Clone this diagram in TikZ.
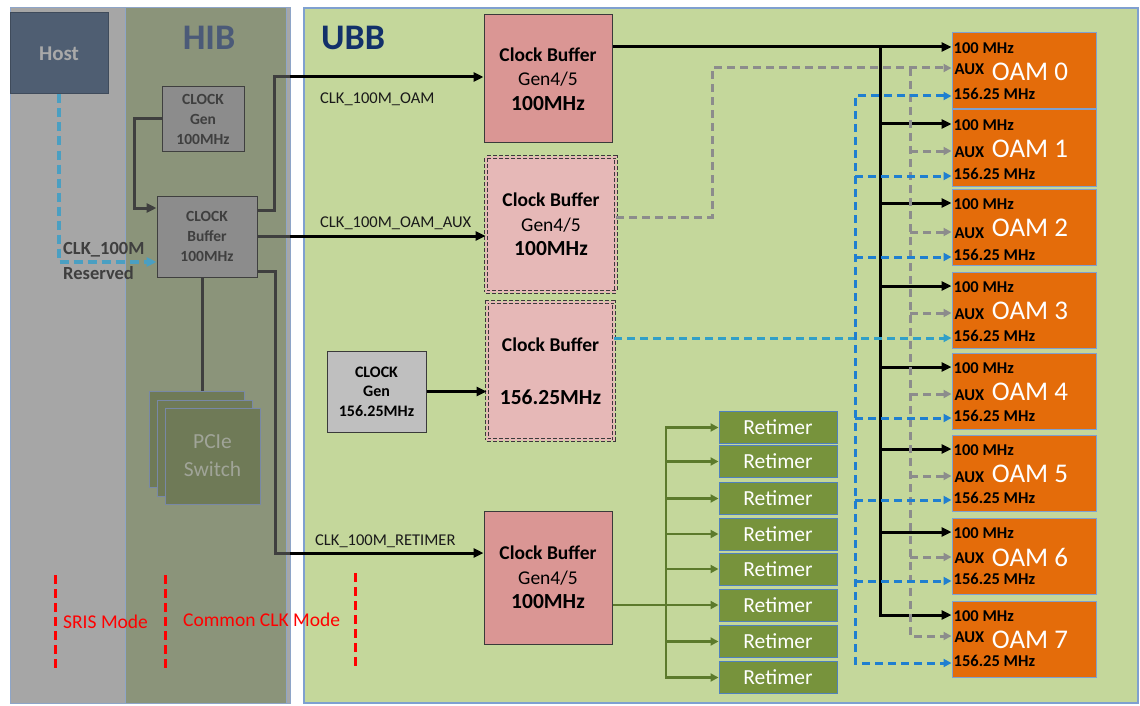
\documentclass[tikz,border=0pt]{standalone}
\usepackage{fontspec}
\setmainfont{Carlito}
\usetikzlibrary{arrows.meta,calc}
\definecolor{lpgray}{HTML}{A6A6A6}
\definecolor{panelline}{HTML}{8EA5C8}
\definecolor{hibfill}{HTML}{8B947A}
\definecolor{hostfill}{HTML}{4F5E72}
\definecolor{hosttext}{HTML}{A9A9A9}
\definecolor{hibtitle}{HTML}{4B5A78}
\definecolor{hibbox}{HTML}{8C8C8C}
\definecolor{hibdk}{HTML}{3F3F3F}
\definecolor{pciefill}{HTML}{6F7A57}
\definecolor{pcieline}{HTML}{7888A6}
\definecolor{pcietext}{HTML}{A0A498}
\definecolor{ubbfill}{HTML}{C4D79B}
\definecolor{ubbline}{HTML}{7FA0D0}
\definecolor{ubbblue}{HTML}{12306A}
\definecolor{cbred}{HTML}{DA9694}
\definecolor{cbpink}{HTML}{E6B8B7}
\definecolor{boxline}{HTML}{3A3A3A}
\definecolor{cggray}{HTML}{BFBFBF}
\definecolor{rtgreen}{HTML}{77933C}
\definecolor{rtline}{HTML}{4F81BD}
\definecolor{oamor}{HTML}{E46C0A}
\definecolor{oamline}{HTML}{7FA0D0}
\definecolor{gline}{HTML}{8C8C8C}
\definecolor{bline}{HTML}{1F7FD0}
\definecolor{tline}{HTML}{31A0C8}
\definecolor{hline}{HTML}{4A9FC2}
\definecolor{oline}{HTML}{5C7A2C}
\definecolor{lbl}{HTML}{1A1A1A}
\begin{document}
\begin{tikzpicture}[x=1pt,y=-1pt,
  hibnode/.style={draw=hibdk, fill=hibbox, line width=1pt, text=hibdk, align=center, inner sep=0pt,
    font=\bfseries\fontsize{15.5}{20}\selectfont},
  cbsolid/.style={draw=boxline, fill=cbred, line width=1pt, align=center, inner sep=0pt,
    font=\fontsize{19.5}{24.5}\selectfont},
  cbdash/.style={draw=boxline, fill=cbpink, dashed, dash pattern=on 4pt off 2pt, double=cbpink, double distance=2.2pt,
    line width=0.8pt, align=center, inner sep=0pt, font=\fontsize{19.5}{24.5}\selectfont},
  cgnode/.style={draw=boxline, fill=cggray, line width=1pt, align=center, inner sep=0pt,
    font=\bfseries\fontsize{16}{19.5}\selectfont},
  pcienode/.style={draw=pcieline, fill=pciefill, line width=1pt, minimum width=95pt, minimum height=96pt, inner sep=0pt},
  rt/.style={draw=rtline, fill=rtgreen, line width=1pt, text=white, minimum width=118pt, minimum height=32pt,
    inner sep=0pt, font=\fontsize{21.5}{24}\selectfont},
  oam/.style={draw=oamline, fill=oamor, line width=1pt, minimum width=144pt, minimum height=76pt, inner sep=0pt},
  oamt/.style={text=white, inner sep=0pt, font=\fontsize{27}{30}\selectfont},
  oaml/.style={text=black, inner sep=0pt, anchor=west, font=\bfseries\fontsize{16.5}{18}\selectfont},
  clkl/.style={text=lbl, inner sep=0pt, anchor=west, font=\fontsize{16.5}{18}\selectfont},
  redt/.style={text=red, inner sep=0pt, anchor=west, font=\fontsize{19.5}{22}\selectfont},
  reddash/.style={draw=red, line width=3pt, dash pattern=on 9pt off 5pt},
  blk/.style={draw=black, line width=3pt},
  hibl/.style={draw=hibdk, line width=3pt},
  gdash/.style={draw=gline, line width=3pt, dash pattern=on 8pt off 5pt},
  bdash/.style={draw=bline, line width=3pt, dash pattern=on 8pt off 5pt},
  tdash/.style={draw=tline, line width=3pt, dash pattern=on 8pt off 5pt},
  hdash/.style={draw=hline, line width=3.5pt, dash pattern=on 9pt off 5pt},
  olv/.style={draw=oline, line width=2.8pt},
  tipb/.tip={Triangle[length=10pt,width=9pt]},
  tips/.tip={Triangle[length=8pt,width=8pt]},
]
\useasboundingbox (0,0) rectangle (1140,706);
\fill[white] (0,0) rectangle (1140,706);

% panels
\draw[fill=lpgray, draw=panelline, line width=1pt] (10,8) rectangle (290,703);
\draw[fill=hibfill, draw=panelline, line width=1pt] (125,8) rectangle (286,703);
\draw[fill=ubbfill, draw=ubbline, line width=1.5pt] (304,8) rectangle (1138,703);

\node[text=hibtitle, font=\bfseries\fontsize{36}{40}\selectfont] (hibt) at (209,38) {HIB};
\node[text=ubbblue, font=\bfseries\fontsize{36}{40}\selectfont] (ubbt) at (353,38) {UBB};

% host and HIB blocks
\node[draw=hostfill!80!black, fill=hostfill, line width=1pt, minimum width=98pt, minimum height=81pt, inner sep=0pt,
  text=hosttext, font=\bfseries\fontsize{21}{24}\selectfont] (host) at (59,53.5) {Host};
\node[hibnode, minimum width=82pt, minimum height=64pt] (hgen) at (203,119) {CLOCK\\Gen\\100MHz};
\node[hibnode, minimum width=100pt, minimum height=81pt] (hbuf) at (207,236.5) {CLOCK\\Buffer\\100MHz};
\node[pcienode] (p1) at (196.5,439) {};
\node[pcienode] (p2) at (204.5,448) {};
\node[pcienode, text=pcietext, align=center, font=\fontsize{21.5}{28}\selectfont] (p3) at (212.5,456) {PCIe\\Switch};

% UBB blocks
\node[cbsolid, minimum width=128pt, minimum height=128pt] (cb1) at (548,79)
  {\textbf{Clock Buffer}\\Gen4/5\\{\bfseries\fontsize{21.5}{24.5}\selectfont 100MHz}};
\node[cbdash, minimum width=130pt, minimum height=135pt] (cb2) at (551,224.5)
  {\textbf{Clock Buffer}\\Gen4/5\\{\bfseries\fontsize{21.5}{24.5}\selectfont 100MHz}};
\node[cbdash, minimum width=127pt, minimum height=138pt, font=\fontsize{19.5}{26.5}\selectfont] (cb3) at (550.5,371)
  {\textbf{Clock Buffer}\\ \\{\bfseries\fontsize{21.5}{26.5}\selectfont 156.25MHz}};
\node[cgnode, minimum width=99pt, minimum height=81pt] (cg) at (376.5,391.5) {CLOCK\\Gen\\156.25MHz};
\node[cbsolid, minimum width=128pt, minimum height=133pt] (cb4) at (548,577.5)
  {\textbf{Clock Buffer}\\Gen4/5\\{\bfseries\fontsize{21.5}{24.5}\selectfont 100MHz}};

% retimers
\foreach \i/\y in {1/427.5,2/461.5,3/498.5,4/534,5/569,6/605,7/641.5,8/677.5}
  \node[rt] (r\i) at (778,\y) {Retimer};

% OAMs
\foreach \k/\ya in {0/47,1/124,2/203,3/286,4/367,5/449,6/532,7/615}{
  \node[oam] (o\k) at (1024,{\ya-14+38}) {};
}
\foreach \k/\ya/\yb/\yc in {0/47/68/96,1/124/151/176,2/203/232/257,3/286/313/338,4/367/394/418,5/449/476/500,6/532/557/581,7/615/636/663}{
  \node[oamt] (ot\k) at ($(o\k.center)+(6,1)$) {OAM \k};
  \node[oaml, xshift=2pt] (ma\k) at (o\k.west |- 0,{\ya+1}) {100 MHz};
  \node[oaml, xshift=3pt] (mb\k) at (o\k.west |- 0,{\yb+1}) {AUX};
  \node[oaml, xshift=2pt] (mc\k) at (o\k.west |- 0,{\yc-2}) {156.25 MHz};
}

% labels
\node[clkl] (l1) at (320,99) {CLK\_100M\_OAM};
\node[clkl] (l2) at (320,223) {CLK\_100M\_OAM\_AUX};
\node[clkl] (l3) at (315,541) {CLK\_100M\_RETIMER};
\node[text=hibdk, inner sep=0pt, anchor=west, font=\bfseries\fontsize{18.5}{20}\selectfont] (rsv1) at (63,250) {CLK\_100M};
\node[text=hibdk, inner sep=0pt, anchor=west, font=\bfseries\fontsize{18.5}{20}\selectfont] (rsv2) at (63,273) {Reserved};

% HIB connectors
\coordinate (j1) at (290,77);
\coordinate (j2) at (290,236);
\coordinate (j3) at (290,553);
\draw[hibl, -tipb] (hgen.west) -- (134,119) -- (134,208) -- (hbuf.west |- 0,208);
\draw[hdash, -tipb] (host.south) -- (host.south |- 0,262) -- (hbuf.west |- 0,262);
\draw[hibl] (hbuf.east |- 0,210) -- (274,210) -- (274,77) -- (j1);
\draw[blk, -tipb] (j1) -- (cb1.west |- j1);
\draw[hibl] (hbuf.east |- j2) -- (j2);
\draw[blk, -tipb] (j2) -- (cb2.west |- j2);
\draw[hibl] (hbuf.east |- 0,271) -- (275,271) -- (275,553) -- (j3);
\draw[blk, -tipb] (j3) -- (cb4.west |- j3);
\draw[hibl] (hbuf.south -| 202,0) -- (p1.north -| 202,0);

% clock gen to buffer
\draw[blk, line width=2.5pt, -tipb] (cg.east) -- (cb3.west |- cg.east);

% black 100 MHz distribution
\coordinate (bb) at (880,0);
\draw[blk, -tipb] (cb1.east |- 0,47) -- (o0.west |- 0,47);
\draw[blk, -tipb] (bb |- 0,47) -- (bb |- 0,615) -- (o7.west |- 0,615);
\foreach \k/\ya in {1/124,2/203,3/286,4/367,5/449,6/532}
  \draw[blk, -tipb] (bb |- 0,\ya) -- (o\k.west |- 0,\ya);

% gray AUX distribution
\coordinate (gb) at (910,0);
\draw[gdash, -tips] (cb2.east |- 0,217) -- (712,217) -- (712,68) -- (o0.west |- 0,68);
\draw[gdash, -tips] (gb |- 0,68) -- (gb |- 0,636) -- (o7.west |- 0,636);
\foreach \k/\yb in {1/151,2/232,3/313,4/394,5/476,6/557}
  \draw[gdash, -tips] (gb |- 0,\yb) -- (o\k.west |- 0,\yb);

% blue 156.25 MHz distribution
\coordinate (qb) at (855,0);
\draw[tdash, -tips] (cb3.east |- 0,338) -- (o3.west |- 0,338);
\draw[bdash, tips-tips] (o0.west |- 0,96) -- (qb |- 0,96) -- (qb |- 0,663) -- (o7.west |- 0,663);
\foreach \k/\yc in {1/176,2/257,4/418,5/500,6/581}
  \draw[bdash, -tips] (qb |- 0,\yc) -- (o\k.west |- 0,\yc);

% retimer distribution
\coordinate (rb) at (666,0);
\draw[olv, tips-tips] (r1.west) -- (rb |- r1.west) -- (rb |- r8.west) -- (r8.west);
\foreach \i in {2,3,4,5,7}
  \draw[olv, -tips] (rb |- r\i.west) -- (r\i.west);
\draw[olv, -tips] (cb4.east |- r6.west) -- (r6.west);

% mode markers
\draw[reddash] (55,575) -- (55,672);
\draw[reddash] (165,575) -- (165,672);
\draw[reddash] (355,573) -- (355,670);
\node[redt] (sris) at (63,622) {SRIS Mode};
\node[redt] (ccm) at (183,620) {Common CLK Mode};
\end{tikzpicture}
\end{document}
